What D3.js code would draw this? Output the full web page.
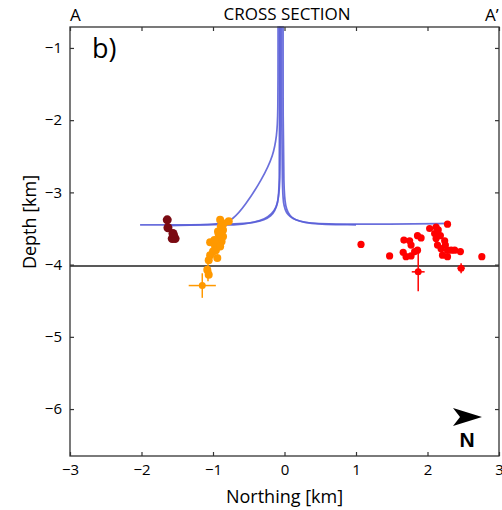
<!DOCTYPE html>
<html>
<head>
<meta charset="utf-8">
<script src="https://cdn.jsdelivr.net/npm/d3@7"></script>
<style>
  body { margin: 0; background: #fff; }
  svg text { font-family: "Open Sans", "DejaVu Sans", sans-serif; fill: #000; }
</style>
</head>
<body>
<div id="chart-container"></div>
<script>
// Well trajectories [northing km, depth km]
const wellPaths = [
    [[-0.04, -0.7], [-0.04, -2.0], [-0.03, -2.9], [-0.02, -3.15], [0.03, -3.32], [0.2, -3.41], [0.5, -3.44], [1.5, -3.44], [2.28, -3.43]],
    [[-0.07, -0.7], [-0.07, -2.0], [-0.07, -2.9], [-0.09, -3.16], [-0.17, -3.34], [-0.4, -3.43], [-1.0, -3.45], [-2.02, -3.45]],
    [[-0.09, -0.7], [-0.09, -2.0], [-0.11, -2.2], [-0.15, -2.48], [-0.32, -2.83], [-0.55, -3.18], [-0.72, -3.38], [-0.9, -3.45], [-1.6, -3.46]],
    [[-0.02, -0.7], [-0.02, -2.0], [-0.01, -2.95], [0.01, -3.2], [0.08, -3.36], [0.3, -3.44], [1.0, -3.45]],
    [[-0.06, -0.7], [-0.06, -2.0], [-0.06, -2.95], [-0.1, -3.22], [-0.25, -3.38], [-0.6, -3.45], [-0.9, -3.45]]
];

// Seismic events [northing km, depth km]
const darkRedEvents = [[-1.64, -3.38], [-1.63, -3.49], [-1.55, -3.6], [-1.53, -3.64], [-1.57, -3.64], [-1.56, -3.57]];

const orangeEvents = [
    [-0.9, -3.38], [-0.85, -3.43], [-0.78, -3.4], [-0.93, -3.54], [-0.86, -3.52], [-0.91, -3.64],
    [-0.97, -3.75], [-1.0, -3.82], [-1.04, -3.87], [-0.94, -3.91], [-1.06, -3.94], [-0.88, -3.68],
    [-0.95, -3.7], [-0.86, -3.61], [-1.04, -3.69], [-0.89, -3.47], [-0.92, -3.58], [-0.96, -3.8],
    [-1.08, -4.07], [-1.06, -4.14], [-0.98, -3.66], [-0.9, -3.75]
];

const redEvents = [
    [1.07, -3.72], [1.47, -3.88], [1.67, -3.66], [1.75, -3.67], [1.77, -3.73], [1.86, -3.6],
    [1.91, -3.63], [1.86, -3.8], [1.82, -3.82], [1.66, -3.83], [1.7, -3.89], [1.77, -3.88],
    [2.28, -3.44], [2.03, -3.5], [2.12, -3.48], [2.1, -3.57], [2.12, -3.64], [2.14, -3.73],
    [2.24, -3.67], [2.19, -3.78], [2.28, -3.8], [2.38, -3.8], [2.46, -3.82], [2.28, -3.89],
    [2.21, -3.87], [2.76, -3.89], [2.15, -3.52], [2.18, -3.6], [2.25, -3.73], [2.33, -3.8]
];

// Located events with error bars [northing, depth, errNorthing, errDepth]
const orangeErrors = [[-1.15, -4.29, 0.19, 0.17], [-1.07, -4.1, 0.02, 0.13]];
const redErrors = [[1.87, -4.1, 0.09, 0.27], [2.47, -4.05, 0.05, 0.07]];

const interfaceDepth = -4.02;

const xTicks = [-3, -2, -1, 0, 1, 2, 3];
const yTicks = [-1, -2, -3, -4, -5, -6];

const svgContainer = d3.select("#chart-container");

const W = 502, H = 510;
const margin = {top: 27, right: 3, bottom: 54, left: 70},
      width = W - margin.left - margin.right,
      height = H - margin.top - margin.bottom;

const svg = svgContainer.append("svg")
    .attr("width", W)
    .attr("height", H);

const g = svg.append("g")
    .attr("transform", `translate(${margin.left}, ${margin.top})`);

const x = d3.scaleLinear().domain([-3, 3]).range([0, width]);
const y = d3.scaleLinear().domain([-6.65, -0.71]).range([height, 0]);

// Wells
const line = d3.line()
    .x(d => x(d[0]))
    .y(d => y(d[1]))
    .curve(d3.curveBasis);

g.selectAll(".well")
    .data(wellPaths)
    .enter().append("path")
    .attr("class", "well")
    .attr("d", line)
    .attr("fill", "none")
    .attr("stroke", "#5a5fd8")
    .attr("stroke-width", 1.7)
    .attr("opacity", 0.9);

// Interface line
g.append("line")
    .attr("x1", 0)
    .attr("x2", width)
    .attr("y1", y(interfaceDepth))
    .attr("y2", y(interfaceDepth))
    .attr("stroke", "#222")
    .attr("stroke-width", 1.5);

// Error bars
function drawErrors(data, color) {
    const eg = g.append("g").attr("stroke", color).attr("stroke-width", 1.5);
    data.forEach(d => {
        eg.append("line")
            .attr("x1", x(d[0] - d[2])).attr("x2", x(d[0] + d[2]))
            .attr("y1", y(d[1])).attr("y2", y(d[1]));
        eg.append("line")
            .attr("x1", x(d[0])).attr("x2", x(d[0]))
            .attr("y1", y(d[1] - d[3])).attr("y2", y(d[1] + d[3]));
    });
    g.selectAll(null)
        .data(data)
        .enter().append("circle")
        .attr("cx", d => x(d[0]))
        .attr("cy", d => y(d[1]))
        .attr("r", 3.5)
        .attr("fill", color);
}

function drawEvents(data, color, r) {
    g.selectAll(null)
        .data(data)
        .enter().append("circle")
        .attr("cx", d => x(d[0]))
        .attr("cy", d => y(d[1]))
        .attr("r", r)
        .attr("fill", color);
}

drawEvents(darkRedEvents, "#7a0a12", 4.5);
drawEvents(orangeEvents, "#ff9900", 4);
drawErrors(orangeErrors, "#ff9900");
drawEvents(redEvents, "#ff0000", 3.6);
drawErrors(redErrors, "#ff0000");

// Axes box with inward ticks
const tickLen = 4;
g.append("rect")
    .attr("width", width)
    .attr("height", height)
    .attr("fill", "none")
    .attr("stroke", "#333")
    .attr("stroke-width", 1.3);

const fmt = d => d3.format("d")(d).replace("-", "\u2212");
const axisBottom = g.append("g")
    .attr("transform", `translate(0, ${height})`)
    .call(d3.axisBottom(x).tickValues(xTicks).tickSize(-tickLen).tickPadding(8).tickFormat(fmt));
const axisTop = g.append("g")
    .call(d3.axisTop(x).tickValues(xTicks).tickSize(-tickLen).tickFormat(""));
const axisLeft = g.append("g")
    .call(d3.axisLeft(y).tickValues(yTicks).tickSize(-tickLen).tickPadding(8).tickFormat(fmt));
const axisRight = g.append("g")
    .attr("transform", `translate(${width}, 0)`)
    .call(d3.axisRight(y).tickValues(yTicks).tickSize(-tickLen).tickFormat(""));

[axisBottom, axisTop, axisLeft, axisRight].forEach(a => {
    a.select(".domain").remove();
    a.selectAll(".tick line").attr("stroke", "#333").attr("stroke-width", 1.2);
    a.selectAll("text").style("font-size", "15px").attr("fill", "#000");
});

// Axis labels
svg.append("text")
    .attr("text-anchor", "middle")
    .attr("x", margin.left + width / 2)
    .attr("y", 503)
    .style("font-size", "18px")
    .text("Northing [km]");

svg.append("text")
    .attr("transform", "rotate(-90)")
    .attr("x", -222)
    .attr("y", 36)
    .attr("text-anchor", "middle")
    .style("font-size", "18px")
    .text("Depth [km]");

// Titles
svg.append("text")
    .attr("text-anchor", "middle")
    .attr("x", 287)
    .attr("y", 20)
    .style("font-size", "17px")
    .text("CROSS SECTION");
svg.append("text")
    .attr("x", 70)
    .attr("y", 21)
    .style("font-size", "17px")
    .text("A");
svg.append("text")
    .attr("x", 485)
    .attr("y", 21)
    .style("font-size", "17px")
    .text("A\u2019");
svg.append("text")
    .attr("x", 92)
    .attr("y", 58)
    .style("font-size", "27px")
    .text("b)");

// North arrow
svg.append("path")
    .attr("d", "M453,408 L482,417 L453,426 L460,417 Z")
    .attr("fill", "#000");
svg.append("text")
    .attr("text-anchor", "middle")
    .attr("x", 467)
    .attr("y", 447)
    .style("font-size", "21px")
    .style("font-weight", "bold")
    .style("font-family", "Liberation Sans, Arial, sans-serif")
    .text("N");
</script>
</body>
</html>
